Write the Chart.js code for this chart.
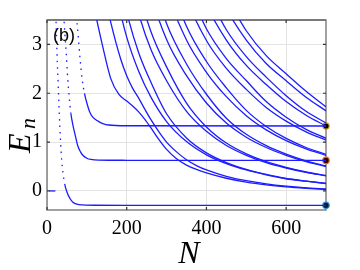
<!DOCTYPE html>
<html><head><meta charset="utf-8">
<script src="https://cdn.jsdelivr.net/npm/chart.js@4.4.0/dist/chart.umd.min.js"></script>
<style>html,body{margin:0;padding:0;background:#fff;}canvas{display:block;}</style>
</head><body>
<canvas id="c" width="360" height="270"></canvas>
<script>
// tick labels
const xTicks = [0, 200, 400, 600];
const yTicks = [0, 1, 2, 3];

// bound-state branches
const N_s0 = [6, 10, 14, 18, 21];
const E_s0 = [0, 0, 0, 0, 0];
const N_c0 = [21, 24, 26, 28, 30, 32, 34, 37, 40, 45, 50, 58, 65, 75, 90, 120, 200, 300, 400, 500, 600, 700];
const E_c0 = [4.0, 3.1, 2.6, 2.2, 1.75, 1.35, 1.02, 0.62, 0.38, 0.12, -0.02, -0.16, -0.23, -0.27, -0.285, -0.293, -0.295, -0.295, -0.295, -0.295, -0.295, -0.295];
const N_c1 = [42, 45, 48, 52, 56, 60, 65, 70, 77, 84, 90, 100, 110, 130, 200, 700];
const E_c1 = [3.6, 3.2, 2.86, 2.3, 1.9, 1.58, 1.35, 1.17, 0.93, 0.80, 0.73, 0.67, 0.645, 0.632, 0.628, 0.625];
const N_c2 = [72, 78, 83, 88, 94, 100, 108, 116, 128, 140, 155, 200, 700];
const E_c2 = [3.7, 3.2, 2.7, 2.3, 2.0, 1.8, 1.6, 1.5, 1.43, 1.38, 1.35, 1.335, 1.33];

// lowest box branches
const N_b1 = [105, 120, 140, 160, 180, 200, 215, 230, 245, 260, 280, 300, 325, 350, 375, 400, 450, 500, 550, 600, 650, 700];
const E_b1 = [4.4, 3.7, 2.95, 2.3, 1.98, 1.84, 1.74, 1.62, 1.47, 1.30, 1.06, 0.85, 0.66, 0.53, 0.44, 0.37, 0.26, 0.18, 0.125, 0.085, 0.055, 0.03];
const N_o1 = [140, 160, 186, 200, 215, 230, 245, 260, 280, 300, 325, 350, 375, 400, 450, 500, 550, 600, 650, 700];
const E_o1 = [4.2, 3.45, 2.67, 2.36, 2.1, 1.9, 1.68, 1.47, 1.22, 1.0, 0.80, 0.64, 0.52, 0.43, 0.30, 0.21, 0.145, 0.098, 0.064, 0.04];

// higher box branches, shared N grid
const N_box = [100, 120, 140, 160, 180, 200, 230, 260, 300, 350, 400, 450, 500, 550, 600, 650, 700];
const n = null;
const E_e2 = [n, n, 6.13, 4.76, 3.82, 3.15, 2.45, 1.93, 1.42, 1.01, 0.74, 0.56, 0.43, 0.33, 0.25, 0.20, 0.152];
const E_o2 = [n, n, n, 5.55, 4.44, 3.66, 2.83, 2.24, 1.58, 1.085, 0.78, 0.582, 0.443, 0.338, 0.255, 0.203, 0.154];
const E_e3 = [n, n, n, n, 5.75, 4.71, 3.64, 2.91, 2.257, 1.63, 1.22, 0.93, 0.73, 0.58, 0.47, 0.38, 0.31];
const E_o3 = [n, n, n, n, n, 5.34, 4.11, 3.28, 2.54, 1.80, 1.31, 0.98, 0.76, 0.60, 0.483, 0.388, 0.316];
const E_e4 = [n, n, n, n, n, n, 5.08, 4.04, 3.10, 2.36, 1.80, 1.39, 1.10, 0.89, 0.73, 0.60, 0.50];
const E_o4 = [n, n, n, n, n, n, n, 4.48, 3.43, 2.60, 1.98, 1.49, 1.16, 0.928, 0.755, 0.617, 0.512];
const E_e5 = [n, n, n, n, n, n, n, 5.37, 4.10, 3.09, 2.43, 1.93, 1.54, 1.25, 1.03, 0.86, 0.73];
const E_o5 = [n, n, n, n, n, n, n, n, 4.49, 3.37, 2.65, 2.11, 1.65, 1.32, 1.075, 0.89, 0.75];
const E_e6 = [n, n, n, n, n, n, n, n, 5.25, 3.94, 3.08, 2.51, 2.08, 1.71, 1.43, 1.21, 1.04];
const E_o6 = [n, n, n, n, n, n, n, n, n, 4.26, 3.32, 2.71, 2.26, 1.83, 1.51, 1.26, 1.078];
const E_e7 = [n, n, n, n, n, n, n, n, n, 4.89, 3.81, 3.09, 2.57, 2.18, 1.83, 1.55, 1.33];
const E_o7 = [n, n, n, n, n, n, n, n, n, n, 4.09, 3.30, 2.75, 2.33, 1.95, 1.63, 1.39];
const E_e8 = [n, n, n, n, n, n, n, n, n, n, 4.63, 3.73, 3.09, 2.61, 2.257, 1.92, 1.64];
const E_o8 = [n, n, n, n, n, n, n, n, n, n, n, 3.98, 3.28, 2.77, 2.40, 2.04, 1.72];

// marked states at N = 700
const markN = [700, 700, 700];
const markE = [1.33, 0.625, -0.295];

const curves = [
  [N_s0, E_s0], [N_c0, E_c0], [N_c1, E_c1], [N_c2, E_c2], [N_b1, E_b1], [N_o1, E_o1],
  [N_box, E_e2], [N_box, E_o2], [N_box, E_e3], [N_box, E_o3], [N_box, E_e4], [N_box, E_o4],
  [N_box, E_e5], [N_box, E_o5], [N_box, E_e6], [N_box, E_o6], [N_box, E_e7], [N_box, E_o7],
  [N_box, E_e8], [N_box, E_o8]
];

const blue = 'rgb(28,28,255)';
const datasets = curves.map(([xs, ys]) => ({
  data: xs.map((v, i) => ({x: v, y: ys[i]})).filter(p => p.y !== null),
  borderColor: blue,
  borderWidth: 1.3,
  pointRadius: 0,
  fill: false,
  cubicInterpolationMode: 'monotone',
  segment: {
    borderDash: ctx => {
      const dx = Math.abs(ctx.p1.x - ctx.p0.x), dy = Math.abs(ctx.p1.y - ctx.p0.y);
      return dy > 6 * dx ? [1.5, 5] : undefined;
    }
  }
}));

const markFill = ['#000000', '#3a0000', '#001a33'];
const markEdge = ['#d8a628', '#e0642c', '#2f8fc8'];
markN.forEach((v, i) => {
  datasets.push({
    type: 'scatter',
    data: [{x: v, y: markE[i]}],
    pointRadius: 3.2,
    pointBackgroundColor: markFill[i],
    pointBorderColor: markEdge[i],
    pointBorderWidth: 1.2,
    clip: false
  });
});

const frame = {
  id: 'frame',
  beforeDatasetsDraw(chart) {
    const {ctx, chartArea: a, scales: {x, y}} = chart;
    ctx.save();
    ctx.strokeStyle = '#7a7a7a';
    ctx.lineWidth = 1.4;
    ctx.strokeRect(a.left, a.top, a.right - a.left, a.bottom - a.top);
    ctx.lineWidth = 2.2;
    ctx.beginPath(); ctx.moveTo(a.left, a.top); ctx.lineTo(a.right, a.top); ctx.stroke();
    ctx.lineWidth = 1.2;
    ctx.strokeStyle = '#333';
    ctx.beginPath();
    xTicks.forEach(v => {
      const p = x.getPixelForValue(v);
      ctx.moveTo(p, a.bottom); ctx.lineTo(p, a.bottom - 3);
      ctx.moveTo(p, a.top); ctx.lineTo(p, a.top + 3);
    });
    yTicks.forEach(v => {
      const p = y.getPixelForValue(v);
      ctx.moveTo(a.left, p); ctx.lineTo(a.left + 3, p);
      ctx.moveTo(a.right, p); ctx.lineTo(a.right - 3, p);
    });
    ctx.stroke();
    ctx.restore();
  },
  afterDraw(chart) {
    const {ctx} = chart;
    ctx.save();
    ctx.fillStyle = '#000';
    ctx.font = '18px "Liberation Sans"';
    ctx.textAlign = 'left';
    ctx.textBaseline = 'alphabetic';
    ctx.fillText('(b)', 53, 41);
    ctx.font = 'italic 32px "Liberation Serif"';
    ctx.textAlign = 'center';
    ctx.fillText('N', 189, 263);
    ctx.translate(30, 153);
    ctx.rotate(-Math.PI / 2);
    ctx.textAlign = 'left';
    ctx.fillText('E', 0, 0);
    ctx.font = 'italic 22px "Liberation Serif"';
    ctx.fillText('n', 24, 5);
    ctx.restore();
  }
};

new Chart(document.getElementById('c'), {
  type: 'line',
  data: {datasets},
  options: {
    responsive: false,
    devicePixelRatio: 1,
    animation: false,
    events: [],
    layout: {padding: {top: 20, right: 34, left: 0, bottom: 0}},
    plugins: {legend: {display: false}, tooltip: {enabled: false}},
    scales: {
      x: {
        type: 'linear', min: 0, max: 700,
        afterBuildTicks: s => { s.ticks = xTicks.map(v => ({value: v})); },
        afterFit: s => { s.height = 60; },
        grid: {color: '#e3e3e3', drawTicks: false},
        border: {display: false},
        ticks: {color: '#000', font: {family: 'Liberation Serif', size: 20}, padding: 7, maxRotation: 0, autoSkip: false}
      },
      y: {
        type: 'linear', min: -0.39, max: 3.5,
        afterBuildTicks: s => { s.ticks = yTicks.map(v => ({value: v})); },
        afterFit: s => { s.width = 47; },
        grid: {color: '#e3e3e3', drawTicks: false},
        border: {display: false},
        ticks: {color: '#000', font: {family: 'Liberation Serif', size: 20}, padding: 5, autoSkip: false}
      }
    }
  },
  plugins: [frame]
});
</script>
</body></html>
